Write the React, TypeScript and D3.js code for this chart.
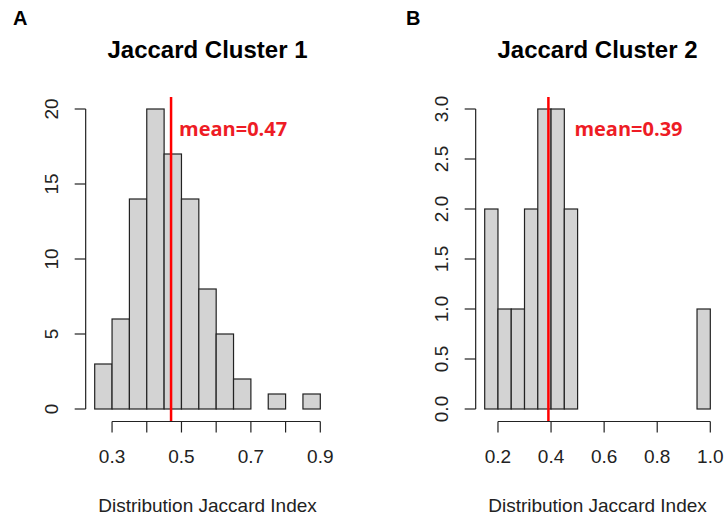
import React from "react";
import * as d3 from "d3";

const binWidth = 0.05;
const binStartA = 0.25;
const countsA = [3, 6, 14, 20, 17, 14, 8, 5, 2, 0, 1, 0, 1];
const binStartB = 0.15;
const countsB = [2, 1, 1, 2, 3, 3, 2, 0, 0, 0, 0, 0, 0, 0, 0, 0, 1];
const xTicksA = [0.3, 0.4, 0.5, 0.6, 0.7, 0.8, 0.9];
const xLabelsA = ["0.3", "", "0.5", "", "0.7", "", "0.9"];
const xTicksB = [0.2, 0.4, 0.6, 0.8, 1.0];
const xLabelsB = ["0.2", "0.4", "0.6", "0.8", "1.0"];
const yTicksA = [0, 5, 10, 15, 20];
const yLabelsA = ["0", "5", "10", "15", "20"];
const yTicksB = [0, 0.5, 1, 1.5, 2, 2.5, 3];
const yLabelsB = ["0.0", "0.5", "1.0", "1.5", "2.0", "2.5", "3.0"];
const meanA = 0.47;
const meanB = 0.39;
const titles = ["Jaccard Cluster 1", "Jaccard Cluster 2"];
const panelLetters = ["A", "B"];
const xTitle = "Distribution Jaccard Index";

const AXIS = "Liberation Sans, Arial, sans-serif";

type PanelProps = {
  letter: string;
  letterX: number;
  title: string;
  binStart: number;
  counts: number[];
  xTicks: number[];
  xLabels: string[];
  yTicks: number[];
  yLabels: string[];
  mean: number;
  meanDx: number;
  px0: number;
  px1: number;
  yMax: number;
};

function Panel(p: PanelProps) {
  const binEnd = p.binStart + p.counts.length * binWidth;
  const x = d3.scaleLinear().domain([p.binStart, binEnd]).range([p.px0, p.px1]);
  const y = d3.scaleLinear().domain([0, p.yMax]).range([409, 109]);
  const span = binEnd - p.binStart;
  const plotLeft = x(p.binStart - 0.04 * span);
  const plotRight = x(binEnd + 0.04 * span);
  const plotTop = y(p.yMax * 1.04);
  const plotBottom = y(-0.04 * p.yMax);
  const cx = (plotLeft + plotRight) / 2;
  const axisY = plotBottom + 0.5;
  const stroke = "#222";
  return (
    <g>
      <text x={p.letterX} y={25} fontFamily={AXIS} fontWeight="bold" fontSize={20} fill="#000">
        {p.letter}
      </text>
      <text x={cx} y={58} textAnchor="middle" fontFamily={AXIS} fontWeight="bold" fontSize={24} fill="#000">
        {p.title}
      </text>
      {p.counts.map((c, i) => {
        const x0 = x(p.binStart + i * binWidth);
        const x1 = x(p.binStart + (i + 1) * binWidth);
        return (
          <rect
            key={i}
            x={x0}
            y={y(c)}
            width={x1 - x0}
            height={y(0) - y(c)}
            fill="#d3d3d3"
            stroke={stroke}
            strokeWidth={1.2}
          />
        );
      })}
      <line x1={plotLeft} x2={plotLeft} y1={y(p.yTicks[0])} y2={y(p.yTicks[p.yTicks.length - 1])} stroke={stroke} strokeWidth={1.2} />
      {p.yTicks.map((t, i) => (
        <g key={"y" + i}>
          <line x1={plotLeft - 11} x2={plotLeft} y1={y(t)} y2={y(t)} stroke={stroke} strokeWidth={1.2} />
          <text
            transform={`translate(${plotLeft - 28},${y(t)}) rotate(-90)`}
            textAnchor="middle"
            fontFamily={AXIS}
            fontSize={19}
            fill="#222"
          >
            {p.yLabels[i]}
          </text>
        </g>
      ))}
      <line x1={x(p.xTicks[0])} x2={x(p.xTicks[p.xTicks.length - 1])} y1={axisY} y2={axisY} stroke={stroke} strokeWidth={1.2} />
      {p.xTicks.map((t, i) => (
        <g key={"x" + i}>
          <line x1={x(t)} x2={x(t)} y1={axisY} y2={axisY + 11} stroke={stroke} strokeWidth={1.2} />
          <text x={x(t)} y={463} textAnchor="middle" fontFamily={AXIS} fontSize={19} fill="#222">
            {p.xLabels[i]}
          </text>
        </g>
      ))}
      <text x={cx} y={512} textAnchor="middle" fontFamily={AXIS} fontSize={19} fill="#222">
        {xTitle}
      </text>
      <line x1={x(p.mean)} x2={x(p.mean)} y1={plotTop} y2={plotBottom} stroke="#ff0000" strokeWidth={2.5} />
      <text
        x={x(p.mean) + p.meanDx}
        y={136}
        fontFamily="Open Sans, sans-serif"
        fontWeight="bold"
        fontSize={20}
        fill="#ee1c25"
      >
        {`mean=${p.mean.toFixed(2)}`}
      </text>
    </g>
  );
}

export default function App() {
  return (
    <svg
      width={724}
      height={518}
      style={{ position: "fixed", left: 0, top: 0, background: "#fff" }}
    >
      <rect x={0} y={0} width={724} height={518} fill="#fff" />
      <Panel
        letter={panelLetters[0]}
        letterX={13}
        title={titles[0]}
        binStart={binStartA}
        counts={countsA}
        xTicks={xTicksA}
        xLabels={xLabelsA}
        yTicks={yTicksA}
        yLabels={yLabelsA}
        mean={meanA}
        meanDx={8}
        px0={94.7}
        px1={320.3}
        yMax={20}
      />
      <Panel
        letter={panelLetters[1]}
        letterX={406}
        title={titles[1]}
        binStart={binStartB}
        counts={countsB}
        xTicks={xTicksB}
        xLabels={xLabelsB}
        yTicks={yTicksB}
        yLabels={yLabelsB}
        mean={meanB}
        meanDx={26}
        px0={484.7}
        px1={710.3}
        yMax={3}
      />
    </svg>
  );
}
